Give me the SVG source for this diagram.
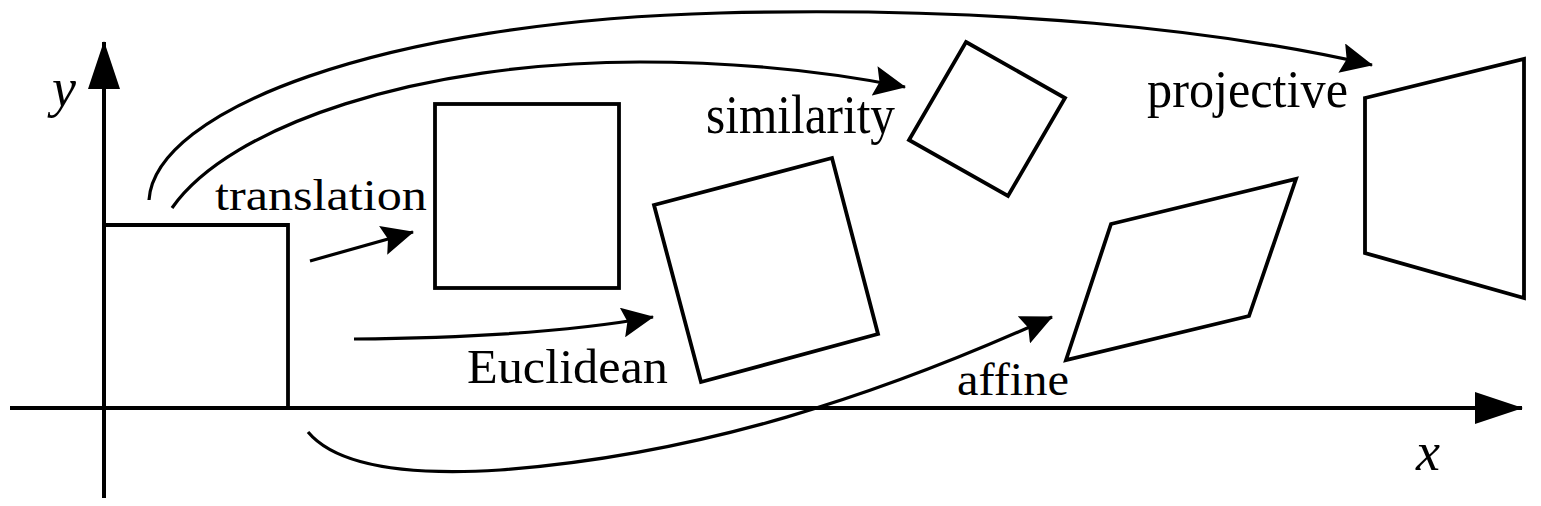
<svg xmlns="http://www.w3.org/2000/svg" width="1541" height="506" viewBox="0 0 1541 506">
<style>
.shape{fill:none;stroke:#000;stroke-width:3.8;stroke-linejoin:miter}
.axis{fill:none;stroke:#000;stroke-width:4}
.conn{fill:none;stroke:#000;stroke-width:3.2}
.lbl{font-family:"Liberation Serif","Times New Roman",serif;fill:#000}
.var{font-family:"Liberation Serif","Times New Roman",serif;font-style:italic;fill:#000}
</style>
<defs>
<marker id="arr" viewBox="0 0 32 30" refX="31" refY="15" markerWidth="32" markerHeight="30" markerUnits="userSpaceOnUse" orient="auto">
<path d="M0,0 L32,15 L0,30 L5,15 z" fill="#000"/>
</marker>
<marker id="axarr" viewBox="0 0 48 32" refX="47" refY="16" markerWidth="48" markerHeight="32" markerUnits="userSpaceOnUse" orient="auto">
<path d="M0,0 L48,16 L0,32 z" fill="#000"/>
</marker>
</defs>
<rect width="1541" height="506" fill="#fff"/>
<g id="axes">
<path class="axis" d="M10,408 L1522,408" marker-end="url(#axarr)"/>
<path class="axis" d="M104,498 L104,42" marker-end="url(#axarr)"/>
<text class="var" x="52" y="106" font-size="54">y</text>
<text class="var" x="1416" y="470" font-size="54">x</text>
</g>
<g id="original">
<path class="shape" d="M104,225 L288,225 L288,408"/>
</g>
<g id="translation">
<rect class="shape" x="435" y="104" width="184" height="184" stroke-width="4.2"/>
<text class="lbl" x="215" y="210" font-size="45" textLength="212" lengthAdjust="spacingAndGlyphs">translation</text>
</g>
<g id="euclidean">
<polygon class="shape" points="654,205 832,158 878,334 701,382"/>
<text class="lbl" x="467" y="383" font-size="48" textLength="201" lengthAdjust="spacingAndGlyphs">Euclidean</text>
</g>
<g id="similarity">
<polygon class="shape" points="966,42 1065,98 1008,196 909,140"/>
<text class="lbl" x="706" y="133" font-size="55" textLength="189" lengthAdjust="spacingAndGlyphs">similarity</text>
</g>
<g id="affine">
<polygon class="shape" points="1111,224 1296,179 1249,316 1066,360"/>
<text class="lbl" x="957" y="395" font-size="46" textLength="112" lengthAdjust="spacingAndGlyphs">affine</text>
</g>
<g id="projective">
<polygon class="shape" points="1365,98 1524,59 1524,298 1365,253"/>
<text class="lbl" x="1147" y="107" font-size="53" textLength="201" lengthAdjust="spacingAndGlyphs">projective</text>
</g>
<g id="connectors">
<path class="conn" d="M310,261 L413,232" marker-end="url(#arr)"/>
<path class="conn" d="M354,339 C470,338 570,332 653,317" marker-end="url(#arr)"/>
<path class="conn" d="M172,208 C230,125 420,62 640,62 C740,62 830,72 905,87" marker-end="url(#arr)"/>
<path class="conn" d="M149,200 C155,110 380,22 720,13 C1000,6 1220,30 1372,65" marker-end="url(#arr)"/>
<path class="conn" d="M308,432 C340,470 420,475 500,470 C700,455 880,395 1052,317" marker-end="url(#arr)"/>
</g>
</svg>
